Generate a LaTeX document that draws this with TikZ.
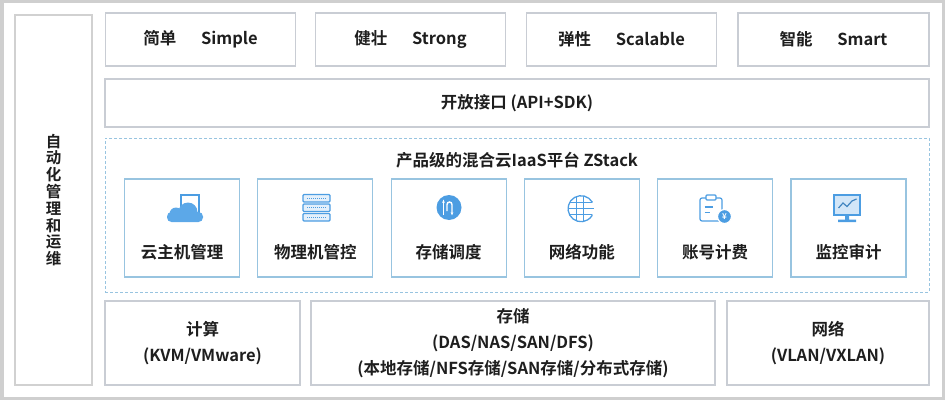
\documentclass[tikz,border=0pt]{standalone}
\usepackage{fontspec}
\setmainfont{Noto Sans CJK SC}[BoldFont={Noto Sans CJK SC Bold}]
\usetikzlibrary{arrows.meta}
\definecolor{cadregris}{HTML}{C9CDD4}
\definecolor{cadrebleu}{HTML}{98C4E0}
\definecolor{icone}{HTML}{4C9DE2}
\definecolor{nuage}{HTML}{5CA8E8}
\definecolor{texte}{HTML}{1E1E1E}

\tikzset{
  cadre/.style={draw=cadregris, line width=1.1pt, inner sep=0pt, text=texte,
    font=\fontsize{16.5}{19}\selectfont\bfseries},
  qualite/.style={cadre, minimum width=190pt, minimum height=53pt},
  socle/.style={cadre, minimum height=84pt, align=center,
    font=\fontsize{16.5}{26}\selectfont\bfseries},
  module/.style={draw=cadrebleu, line width=1.1pt, minimum width=115pt, minimum height=98pt},
  libelle/.style={text=texte, inner sep=0pt, font=\fontsize{16.5}{19}\selectfont\bfseries},
  trait/.style={icone, line width=1.2pt}
}

\begin{document}
\begin{tikzpicture}[x=1pt,y=1pt]
   \useasboundingbox (0,0) rectangle (945,400);
   \draw[draw=black!19, line width=3.5pt] (1.75,1.75) rectangle (943.25,398.25);

   % colonne de gauche
   \node[cadre, draw=black!18, minimum width=77pt, minimum height=370pt] (auto) at (53.5,200) {};
   \node[libelle, align=center, font=\fontsize{15.5}{16.8}\selectfont\bfseries] (autotxt) at (auto.center)
     {自\\动\\化\\管\\理\\和\\运\\维};

   % ligne du haut
   \node[qualite] (simple) at (200.5,360.5) {简单\hspace{1.5em}Simple};
   \node[qualite] (strong) at (410.5,360.5) {健壮\hspace{1.5em}Strong};
   \node[qualite] (scalable) at (621.5,360.5) {弹性\hspace{1.5em}Scalable};
   \node[qualite, minimum width=191pt] (smart) at (833.5,360.5) {智能\hspace{1.5em}Smart};

   \node[cadre, minimum width=824pt, minimum height=48pt] (api) at (517,297) {开放接口 (API+SDK)};

   % plateforme
   \node[draw=cadrebleu, line width=1pt, dash pattern=on 3pt off 2pt,
         minimum width=824pt, minimum height=154pt] (zstack) at (517,185) {};
   \node[libelle] (titre) at (517,240) {产品级的混合云IaaS平台 ZStack};

   \foreach \lab [count=\i] in {云主机管理,物理机管控,存储调度,网络功能,账号计费,监控审计}{
     \node[module] (m\i) at ({182+133.3*(\i-1)},172) {};
     \node[libelle] (t\i) at ([yshift=-24pt]m\i.center) {\lab};
   }

   % icones
   \draw[trait] (181,187) rectangle (199,205);
   \fill[nuage, rounded corners=4.5pt] (167,178) rectangle (203,188);
   \fill[nuage] (188,188) circle (9.5) (176,186) circle (6.5);

   \foreach \y in {179,188.5,198}{
     \draw[trait, fill=icone!15, rounded corners=1pt] (303,\y) rectangle (330,\y+7.5);
     \draw[icone, line width=0.7pt, dash pattern=on 1.2pt off 0.8pt] (307,\y+3.75) -- (326,\y+3.75);
   }

   \fill[icone] (449,192.5) circle (12.5);
   \draw[white, line width=1.4pt, -{Stealth[length=3.5pt]}] (443.5,185) -- (443.5,200.5);
   \draw[white, line width=1.4pt, -{Stealth[length=3.5pt]}] (447,189) -- (447,195.5)
     arc[start angle=180, end angle=0, radius=2.5] -- (452,184.5);

   \begin{scope}
     \clip (581,191.5) circle (13);
     \foreach \v in {-6,0,6}{
       \draw[trait, line width=1pt] (568,191.5+\v) -- (594,191.5+\v);
     }
     \draw[trait, line width=1pt] (576,178) -- (576,205) (583,178) -- (583,205);
   \end{scope}
   \draw[trait, line width=1.3pt] (592.3,197.8) arc[start angle=30, end angle=330, radius=13];

   \draw[trait, rounded corners=2pt] (700,179) rectangle (722,202);
   \draw[trait, fill=white, rounded corners=1pt] (706,200) rectangle (716,205);
   \draw[trait] (704.5,193) -- (713,193) (704.5,187.5) -- (710,187.5);
   \draw[white, line width=1.2pt, fill=icone] (724.5,183.5) circle (7);
   \node[white, inner sep=0pt, font=\fontsize{8}{8}\selectfont\bfseries] (yen) at (724.5,183.5) {¥};

   \draw[trait, fill=icone!25] (834,185) rectangle (860,205);
   \draw[icone!85!black, line width=1.2pt] (838.5,192) -- (843,197) -- (847,193.5) -- (852,199) -- (856.5,201);
   \fill[icone] (845,180) rectangle (849,185) (838,178) rectangle (856,180.5);

   % ligne du bas
   \node[socle, minimum width=195pt] (calcul) at (202.5,57) {计算\\(KVM/VMware)};
   \node[socle, minimum width=404pt] (stockage) at (513,57)
     {存储\\(DAS/NAS/SAN/DFS)\\(本地存储/NFS存储/SAN存储/分布式存储)};
   \node[socle, minimum width=202pt] (reseau) at (828,57) {网络\\(VLAN/VXLAN)};
\end{tikzpicture}
\end{document}
